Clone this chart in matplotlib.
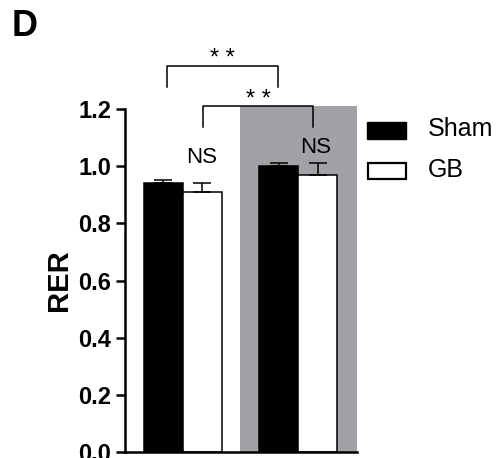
import matplotlib
matplotlib.use("Agg")
import matplotlib.pyplot as plt
from matplotlib.patches import Rectangle

plt.rcParams['font.family'] = ['Liberation Sans', 'DejaVu Sans']

# Data
groups = ["Group 1", "Group 2"]
series = ["Sham", "GB"]
sham_mean = [0.94, 1.00]
sham_err = [0.01, 0.01]
gb_mean = [0.91, 0.97]
gb_err = [0.03, 0.04]
yticks = [0.0, 0.2, 0.4, 0.6, 0.8, 1.0, 1.2]
ns_labels = ["NS", "NS"]
sig_label = "* *"

fig = plt.figure(figsize=(5.0, 4.58), dpi=100)
W, H = 500, 458
ax = fig.add_axes([125 / W, (H - 452) / H, (357 - 125) / W, (452 - 109) / H])

bar_w = 1.0
centers = [0.0, 2.95]
sham_x = [c - bar_w / 2 for c in centers]
gb_x = [c + bar_w / 2 for c in centers]

# shaded background behind the second group
ax.add_patch(Rectangle((1.462, 0), 4.462 - 1.462, 1.211, facecolor="#a2a1a6",
                       edgecolor="none", zorder=0, clip_on=False))

ax.bar(sham_x, sham_mean, width=bar_w, color="black", edgecolor="black",
       linewidth=1.1, zorder=2)
ax.bar(gb_x, gb_mean, width=bar_w, color="white", edgecolor="black",
       linewidth=1.1, zorder=2)
ax.errorbar(sham_x, sham_mean, yerr=[[0] * len(sham_err), sham_err], fmt="none",
            ecolor="black", elinewidth=1.1, capsize=6.5, capthick=1.1, zorder=3)
ax.errorbar(gb_x, gb_mean, yerr=[[0] * len(gb_err), gb_err], fmt="none",
            ecolor="black", elinewidth=1.1, capsize=6.5, capthick=1.1, zorder=3)

ax.set_xlim(-1.487, 4.462)
ax.set_ylim(0, 1.2)
ax.set_yticks(yticks)
ax.set_yticklabels([f"{v:.1f}" for v in yticks], fontsize=17, fontweight="bold")
ax.set_xticks([])
for s in ["top", "right"]:
    ax.spines[s].set_visible(False)
for s in ["left", "bottom"]:
    ax.spines[s].set_linewidth(1.8)
ax.tick_params(axis="y", length=6.5, width=1.8, pad=3.5)
ax.set_ylabel("RER", fontsize=21, fontweight="bold", labelpad=4)
ax.patch.set_alpha(0)

# significance brackets
def bracket(x1, x2, y_top, y_bot, label, y_text):
    ax.plot([x1, x1, x2, x2], [y_bot, y_top, y_top, y_bot], color="black",
            linewidth=1.1, clip_on=False, zorder=4)
    ax.text((x1 + x2) / 2, y_text, label, ha="center", va="center",
            fontsize=17, clip_on=False)

bracket(-0.41, 2.436, 1.351, 1.277, sig_label, 1.375)
bracket(0.513, 3.333, 1.211, 1.137, sig_label, 1.233)

ns_y = [1.029, 1.067]
for x, y, t in zip([0.49, 3.40], ns_y, ns_labels):
    ax.text(x, y, t, ha="center", va="center", fontsize=16, zorder=4)

# legend
fig.add_artist(Rectangle((367 / W, (H - 139) / H), 39 / W, 17 / H,
                         transform=fig.transFigure, facecolor="black",
                         edgecolor="black", linewidth=1.0))
fig.add_artist(Rectangle((368 / W, (H - 178.5) / H), 38 / W, 16 / H,
                         transform=fig.transFigure, facecolor="white",
                         edgecolor="black", linewidth=1.6))
fig.text(428 / W, (H - 129) / H, series[0], fontsize=18, va="center", ha="left")
fig.text(428 / W, (H - 170) / H, series[1], fontsize=18, va="center", ha="left")

fig.text(12 / W, (H - 27) / H, "D", fontsize=26, fontweight="bold",
         va="center", ha="left")

fig.savefig("out.png", dpi=100)
